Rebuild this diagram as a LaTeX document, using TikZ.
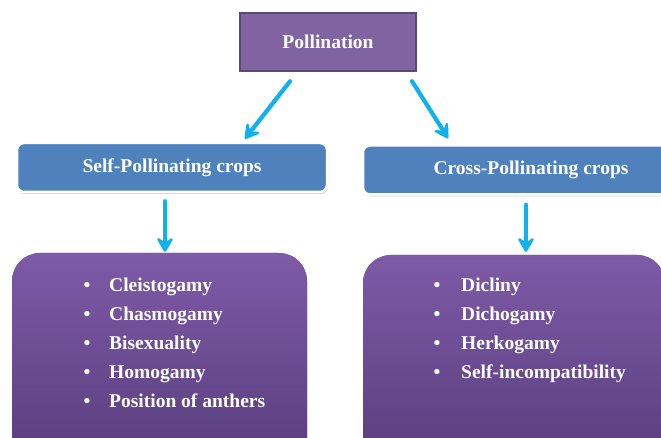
\documentclass[tikz,border=0pt]{standalone}
\usepackage{fontspec}
\setmainfont{Liberation Serif}
\usetikzlibrary{arrows.meta,shadows}

\definecolor{polfill}{HTML}{8064A2}
\definecolor{polline}{HTML}{5C4878}
\definecolor{cropblue}{HTML}{4F81BD}
\definecolor{listtop}{HTML}{7E5AA7}
\definecolor{listbot}{HTML}{563C7A}
\definecolor{arrowcyan}{HTML}{0FB2EE}

\tikzset{
  headbox/.style={draw=polline, line width=2.5pt, fill=polfill, minimum width=176pt,
    minimum height=58pt, text=white, font=\bfseries\fontsize{19.5}{23}\selectfont},
  cropbox/.style={draw=white, line width=2.5pt, fill=cropblue, rounded corners=7pt,
    minimum height=49pt, text=white, font=\bfseries\fontsize{19.5}{23}\selectfont,
    drop shadow={shadow xshift=1pt, shadow yshift=-2pt, opacity=.35}},
  listbox/.style={fill=listtop, top color=listtop, bottom color=listbot, rounded corners=28pt,
    minimum height=225pt, drop shadow={shadow xshift=0pt, shadow yshift=-1pt, opacity=.3}},
  itemlist/.style={text=white, inner sep=0pt, anchor=base west,
    font=\bfseries\fontsize{19.5}{29}\selectfont},
  flow/.style={draw=arrowcyan, line width=4.2pt, line cap=round,
    -{Stealth[length=19pt, width=22pt, inset=9pt, round]}}
}

\begin{document}
\begin{tikzpicture}[x=1pt,y=1pt]
  \useasboundingbox (0,0) rectangle (661,438);
  \node[headbox] (pol) at (328,396) {Pollination};
  \node[cropbox, minimum width=310pt] (self) at (172,270.5) {Self-Pollinating crops};
  \node[cropbox, minimum width=336pt] (cross) at (531,268) {Cross-Pollinating crops};
  \node[listbox, minimum width=295pt] (selfbox) at (159.5,72.5) {};
  \node[listbox, minimum width=302pt] (crossbox) at (514,70.5) {};
  \node[itemlist] (selflist) at (83.5,146) {\begin{tabular}[t]{@{}p{25.5pt}@{}l@{}}
    \textbullet & Cleistogamy\\
    \textbullet & Chasmogamy\\
    \textbullet & Bisexuality\\
    \textbullet & Homogamy\\
    \textbullet & Position of anthers
  \end{tabular}};
  \node[itemlist] (crosslist) at (433.5,146) {\begin{tabular}[t]{@{}p{27.5pt}@{}l@{}}
    \textbullet & Dicliny\\
    \textbullet & Dichogamy\\
    \textbullet & Herkogamy\\
    \textbullet & Self-incompatibility
  \end{tabular}};
  % arrows
  \draw[flow] ([xshift=-38pt,yshift=-9pt]pol.south) -- ([xshift=73pt,yshift=3pt]self.north);
  \draw[flow] ([xshift=84pt,yshift=-9pt]pol.south) -- ([xshift=-83pt,yshift=6pt]cross.north);
  \draw[flow] ([xshift=-7pt,yshift=-8pt]self.south) -- ([xshift=5.5pt,yshift=1pt]selfbox.north);
  \draw[flow] ([xshift=-5pt,yshift=-9pt]cross.south) -- ([xshift=12pt,yshift=3pt]crossbox.north);
\end{tikzpicture}
\end{document}
